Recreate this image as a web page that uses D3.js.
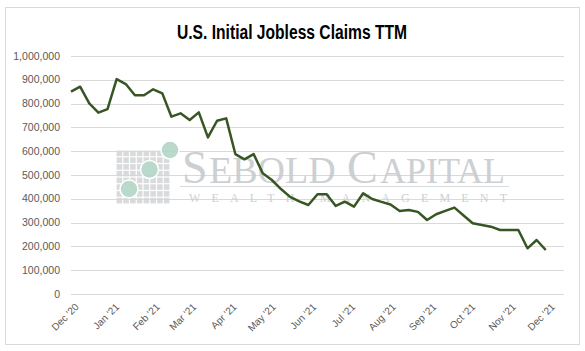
<!DOCTYPE html>
<html>
<head>
<meta charset="utf-8">
<script src="https://cdn.jsdelivr.net/npm/d3@7"></script>
<style>
  body { margin: 0; background: #fff; }
  svg { display: block; }
</style>
</head>
<body>
<div id="chart"></div>
<script>
// weekly initial claims, week ending Saturday
let firstWeek = '2020-12-05'
let claims = [
  850000, 871000, 801000, 762000, 777000, 903000, 882000, 835000, 835000,
  860000, 843000, 745000, 759000, 731000, 763000, 658000, 728000, 738000,
  588000, 566000, 588000, 507000, 479000, 441000, 408000, 389000, 374000,
  419000, 419000, 370000, 388000, 367000, 423000, 399000, 387000, 376000,
  349000, 353000, 345000, 311000, 335000, 349000, 363000, 330000, 297000,
  290000, 283000, 269000, 269000, 269000, 192000, 227000, 185000
]
let yTicks = [0, 100000, 200000, 300000, 400000, 500000, 600000, 700000, 800000, 900000, 1000000]
let monthTicks = ['2020-12-05', '2021-01-05', '2021-02-05', '2021-03-05', '2021-04-05', '2021-05-05',
  '2021-06-05', '2021-07-05', '2021-08-05', '2021-09-05', '2021-10-05', '2021-11-05', '2021-12-05']
let axisEnd = '2021-12-18'

let parse = d3.timeParse('%Y-%m-%d')
let start = parse(firstWeek)
let datapoints = claims.map((v, i) => ({ date: d3.timeDay.offset(start, i * 7), value: v }))

let width = 585
let height = 351
let margin = { top: 56, left: 71, right: 21, bottom: 57 }

let svg = d3.select('#chart')
  .append('svg')
  .attr('width', width)
  .attr('height', height)

// chart frame
svg.append('rect')
  .attr('x', 5.5).attr('y', 7.5)
  .attr('width', 574).attr('height', 337)
  .attr('fill', '#fff')
  .attr('stroke', '#d9d9d9')

svg.append('text')
  .attr('x', 292)
  .attr('y', 39)
  .attr('text-anchor', 'middle')
  .attr('font-family', 'Liberation Sans Narrow, Liberation Sans, Arial, sans-serif')
  .attr('font-weight', 'bold')
  .attr('font-size', 20)
  .attr('fill', '#000')
  .attr('textLength', 230)
  .attr('lengthAdjust', 'spacingAndGlyphs')
  .text('U.S. Initial Jobless Claims TTM')

let xScale = d3.scaleTime()
  .domain([start, parse(axisEnd)])
  .range([margin.left, width - margin.right])

let yScale = d3.scaleLinear()
  .domain([0, 1000000])
  .range([height - margin.bottom, margin.top])

// gridlines
svg.append('g')
  .selectAll('line')
  .data(yTicks)
  .enter().append('line')
  .attr('x1', margin.left)
  .attr('x2', width - margin.right)
  .attr('y1', d => Math.round(yScale(d)) + 0.5)
  .attr('y2', d => Math.round(yScale(d)) + 0.5)
  .attr('stroke', '#d9d9d9')
  .attr('stroke-width', 1)

// y labels
svg.append('g')
  .selectAll('text')
  .data(yTicks)
  .enter().append('text')
  .attr('x', 60)
  .attr('y', d => yScale(d))
  .attr('dy', '0.35em')
  .attr('text-anchor', 'end')
  .attr('font-family', 'Liberation Sans, Arial, sans-serif')
  .attr('font-size', 10.5)
  .attr('fill', '#595959')
  .text(d => d3.format(',')(d))

// x labels
let labelFormat = d3.timeFormat("%b '%y")
svg.append('g')
  .selectAll('text')
  .data(monthTicks.map(parse))
  .enter().append('text')
  .attr('transform', d => `translate(${xScale(d) + 6},${height - margin.bottom + 11}) rotate(-45)`)
  .attr('text-anchor', 'end')
  .attr('dy', '0.35em')
  .attr('font-family', 'Liberation Sans, Arial, sans-serif')
  .attr('font-size', 10)
  .attr('fill', '#595959')
  .text(d => labelFormat(d))

// watermark
let mark = svg.append('g').attr('opacity', 0.9)
let gridX = 116
let gridY = 150
let cell = 54 / 8
for (let r = 0; r < 8; r++) {
  for (let c = 0; c < 8; c++) {
    mark.append('rect')
      .attr('x', gridX + c * cell + 0.6)
      .attr('y', gridY + r * cell + 0.6)
      .attr('width', cell - 1.2)
      .attr('height', cell - 1.2)
      .attr('fill', '#d4d6d8')
  }
}
mark.selectAll('circle')
  .data([[129, 189], [149.5, 169.5], [170, 150]])
  .enter().append('circle')
  .attr('cx', d => d[0])
  .attr('cy', d => d[1])
  .attr('r', 9)
  .attr('fill', '#b2d6c5')
  .attr('stroke', '#fff')
  .attr('stroke-width', 1.5)

let markParts = [
  { t: 'S', x: 182, size: 46 },
  { t: 'EBOLD', x: 209, size: 38 },
  { t: 'C', x: 347, size: 46 },
  { t: 'APITAL', x: 380, size: 36 }
]
mark.selectAll('.mark-word')
  .data(markParts)
  .enter().append('text')
  .attr('class', 'mark-word')
  .attr('x', d => d.x)
  .attr('y', 183)
  .attr('font-family', 'Liberation Serif, Times New Roman, serif')
  .attr('font-size', d => d.size)
  .attr('fill', '#c8cbce')
  .text(d => d.t)

mark.append('line')
  .attr('x1', 180).attr('x2', 509)
  .attr('y1', 186.5).attr('y2', 186.5)
  .attr('stroke', '#d4d6d8')
  .attr('stroke-width', 1)

mark.append('text')
  .attr('x', 189)
  .attr('y', 202)
  .attr('font-family', 'Liberation Serif, Times New Roman, serif')
  .attr('font-size', 12)
  .attr('fill', '#c8cbce')
  .attr('textLength', 318)
  .attr('lengthAdjust', 'spacing')
  .text('WEALTH MANAGEMENT')

// claims line
let line = d3.line()
  .x(d => xScale(d.date))
  .y(d => yScale(d.value))

svg.append('path')
  .datum(datapoints)
  .attr('d', line)
  .attr('fill', 'none')
  .attr('stroke', '#375623')
  .attr('stroke-width', 2.5)
  .attr('stroke-linejoin', 'round')
</script>
</body>
</html>
